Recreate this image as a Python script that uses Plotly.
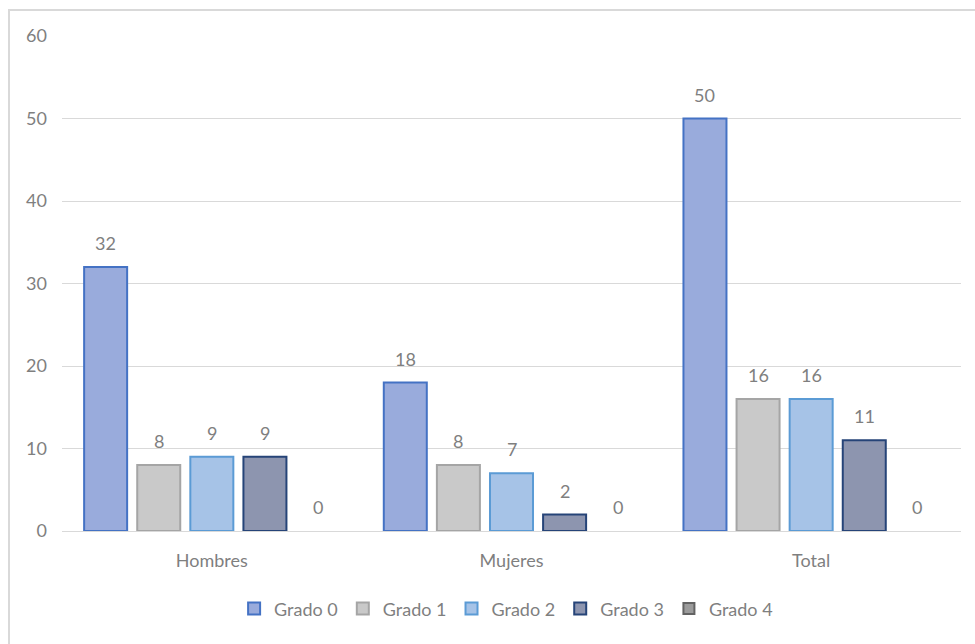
import plotly.graph_objects as go

categories = ["Hombres", "Mujeres", "Total"]
series_names = ["Grado 0", "Grado 1", "Grado 2", "Grado 3", "Grado 4"]
grado0 = [32, 18, 50]
grado1 = [8, 8, 16]
grado2 = [9, 7, 16]
grado3 = [9, 2, 11]
grado4 = [0, 0, 0]
y_ticks = [0, 10, 20, 30, 40, 50, 60]

series_values = [grado0, grado1, grado2, grado3, grado4]
fills = ["#99abdc", "#c9c9c9", "#a6c3e7", "#8d95af", "#9b9b9b"]
edges = ["#4472c4", "#a5a5a5", "#5b9bd5", "#264478", "#636363"]

FONT = "Lato, Noto Sans, sans-serif"
TEXT_GREY = "#7f7f7f"
FS = 18

ml, mr, mt, mb = 62, 14, 36, 113
pw, ph = 975 - ml - mr, 644 - mt - mb
BARGAP, BARGROUPGAP = 0.114, 0.19

fig = go.Figure()
for name, vals, fc, ec in zip(series_names, series_values, fills, edges):
    all_zero = all(v == 0 for v in vals)
    fig.add_trace(go.Bar(
        x=categories, y=vals, name=name,
        marker=dict(color=fc, line=dict(color=ec, width=0 if all_zero else 2)),
        showlegend=not all_zero,
        legendrank=series_names.index(name),
    ))
    if all_zero:
        # legend swatch for a series whose bars have no height
        fig.add_trace(go.Scatter(
            x=[None], y=[None], mode="markers", name=name,
            marker=dict(symbol="square", size=11, color=fc, line=dict(color=ec, width=2)),
            legendrank=series_names.index(name),
        ))

# value labels above each bar, shifted to the bar's slot inside its group
slot_px = (pw / len(categories)) * (1 - BARGAP) / len(series_names)
n = len(series_names)
for i, vals in enumerate(series_values):
    for cat, v in zip(categories, vals):
        fig.add_annotation(
            x=cat, y=v, text=str(v), showarrow=False,
            xshift=(i - (n - 1) / 2) * slot_px, yshift=24,
            yanchor="middle", xanchor="center",
            font=dict(family=FONT, size=FS, color=TEXT_GREY),
        )

# outer chart frame
fig.add_shape(type="rect", xref="paper", yref="paper",
              x0=(9 - ml) / pw, x1=(990 - ml) / pw,
              y0=(531 - 660) / ph, y1=1 + (mt - 10) / ph,
              line=dict(color="#d9d9d9", width=2), layer="below")

fig.update_layout(
    width=975, height=644,
    margin=dict(l=ml, r=mr, t=mt, b=mb),
    paper_bgcolor="white", plot_bgcolor="white",
    barmode="group", bargap=BARGAP, bargroupgap=BARGROUPGAP,
    font=dict(family=FONT, size=FS, color=TEXT_GREY),
    legend=dict(orientation="h", x=0.494, xanchor="center", y=-0.12, yanchor="top",
                font=dict(family=FONT, size=FS, color=TEXT_GREY),
                itemwidth=30, tracegroupgap=0, traceorder="normal"),
    xaxis=dict(showgrid=False, showline=True, linecolor="#d9d9d9", linewidth=1,
               ticks="", ticklabelstandoff=13,
               tickfont=dict(family=FONT, size=FS, color=TEXT_GREY)),
    yaxis=dict(range=[0, 60], tickvals=y_ticks, showgrid=True, gridcolor="#d9d9d9",
               gridwidth=1, zeroline=False, showline=False, ticks="",
               ticklabelstandoff=14,
               tickfont=dict(family=FONT, size=FS, color=TEXT_GREY)),
)

fig.write_html("out.html")
